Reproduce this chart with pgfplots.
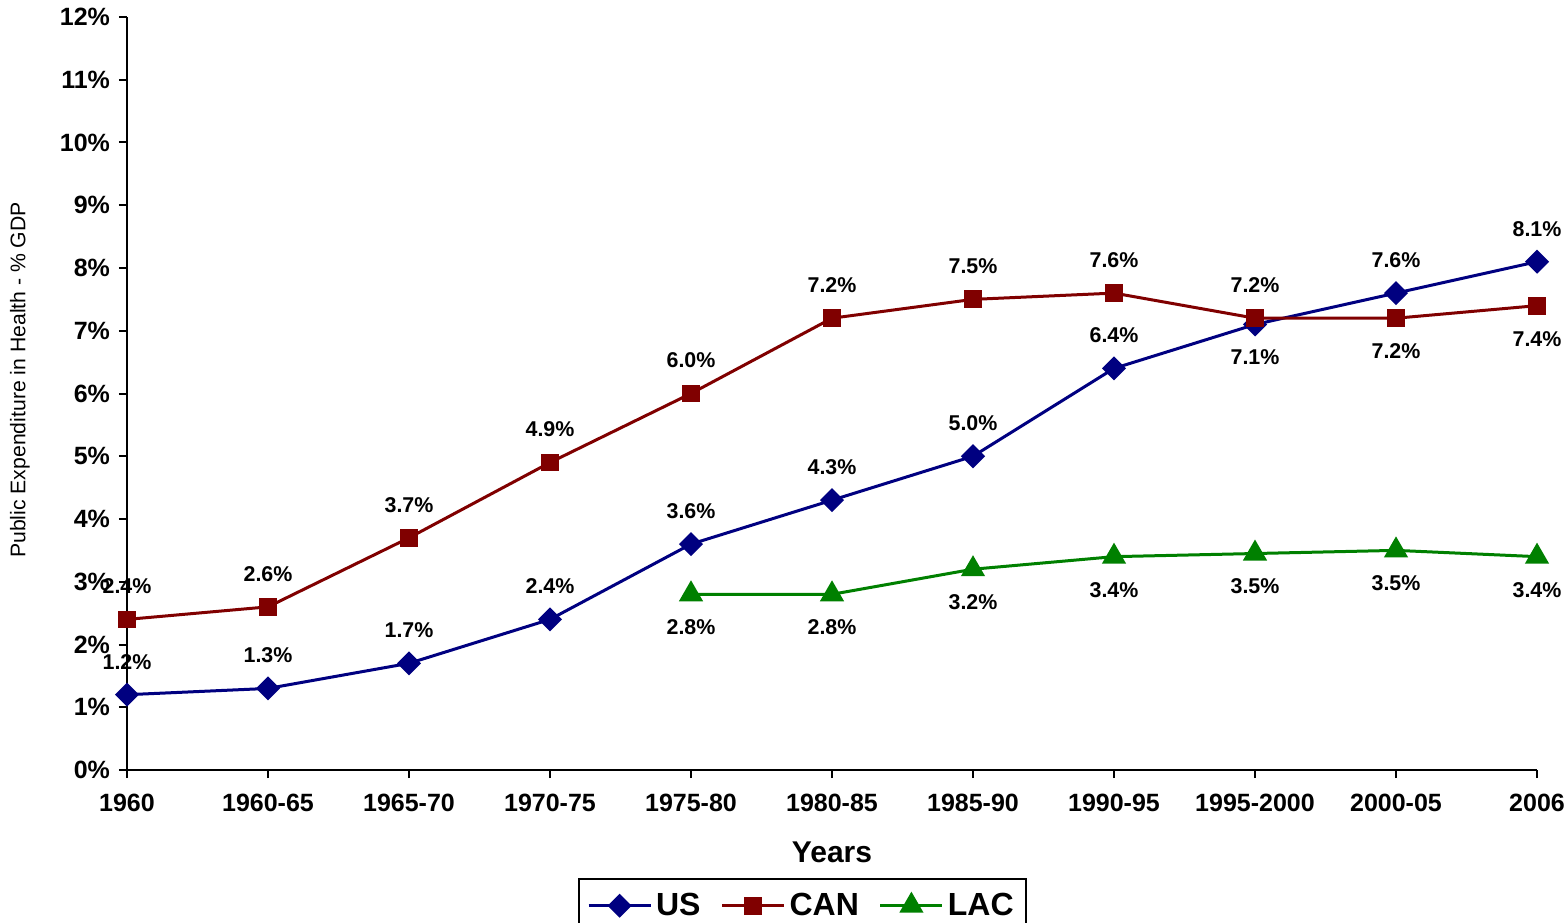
\documentclass[border=0pt]{standalone}
\usepackage{fontspec}
\setmainfont{Liberation Sans}
\usepackage{pgfplots}
\pgfplotsset{compat=1.18}
\usepackage{pgfplotstable}
\definecolor{usblue}{RGB}{0,0,128}
\definecolor{canred}{RGB}{128,0,0}
\definecolor{lacgreen}{RGB}{0,128,0}

\pgfplotstableread{
x y lbl pos
0 1.2 1.2 1
1 1.3 1.3 1
2 1.7 1.7 1
3 2.4 2.4 1
4 3.6 3.6 1
5 4.3 4.3 1
6 5.0 5.0 1
7 6.4 6.4 1
8 7.1 7.1 -1
9 7.6 7.6 1
10 8.1 8.1 1
}\usdata

\pgfplotstableread{
x y lbl pos
0 2.4 2.4 1
1 2.6 2.6 1
2 3.7 3.7 1
3 4.9 4.9 1
4 6.0 6.0 1
5 7.2 7.2 1
6 7.5 7.5 1
7 7.6 7.6 1
8 7.2 7.2 1
9 7.2 7.2 -1
10 7.4 7.4 -1
}\candata

\pgfplotstableread{
x y lbl pos
4 2.8 2.8 -1
5 2.8 2.8 -1
6 3.2 3.2 -1
7 3.4 3.4 -1
8 3.45 3.5 -1
9 3.5 3.5 -1
10 3.4 3.4 -1
}\lacdata

\pgfplotsset{
  lbls/.style={
    nodes near coords={\pgfplotspointmeta\%},
    point meta=explicit symbolic,
    visualization depends on={\thisrow{pos} \as \lblpos},
    every node near coord/.append style={anchor=center, yshift={\lblpos*16.5pt}, text=black, font=\bfseries\fontsize{10.7}{12}\selectfont},
  },
  usst/.style={usblue, line width=1.5pt, mark=square*, mark size=3.5pt, mark options={rotate=45, solid, fill=usblue}},
  canst/.style={canred, line width=1.5pt, mark=square*, mark size=3.7pt, mark options={solid, fill=canred}},
  lacst/.style={lacgreen, line width=1.5pt, mark=triangle*, mark size=5.5pt, mark options={solid, fill=lacgreen}},
}

\begin{document}
\begin{tikzpicture}
\begin{axis}[
  scale only axis,
  width=705pt, height=376.5pt,
  xmin=0, xmax=10, ymin=0, ymax=12,
  axis x line*=bottom, axis y line*=left,
  axis line style={-, line width=1pt, black},
  tick align=outside,
  major tick length=4pt,
  tick style={line width=1pt, black},
  xtick={0,...,10},
  xticklabels={1960,1960-65,1965-70,1970-75,1975-80,1980-85,1985-90,1990-95,1995-2000,2000-05,2006},
  ytick={0,...,12},
  yticklabels={0\%,1\%,2\%,3\%,4\%,5\%,6\%,7\%,8\%,9\%,10\%,11\%,12\%},
  ticklabel style={font=\bfseries\fontsize{12.5}{14}\selectfont},
  xticklabel style={yshift=-4.5pt},
  yticklabel style={xshift=-1pt},
  xlabel={Years},
  every axis x label/.style={at={(axis description cs:0.5,0)}, yshift=-41pt, anchor=center, font=\bfseries\fontsize{15}{17}\selectfont},
  ylabel={Public Expenditure in Health - \% GDP},
  every axis y label/.style={at={(axis description cs:0,0.518)}, xshift=-53.5pt, rotate=90, anchor=center, font=\fontsize{10.6}{12}\selectfont},
  legend columns=3,
  legend style={at={(axis description cs:0.479,-0.1434)}, anchor=north,
    draw=black, line width=1pt, font=\bfseries\fontsize{16}{18}\selectfont,
    inner xsep=4pt, inner ysep=5pt,
    /tikz/every even column/.append style={column sep=8pt}},
  legend image code/.code={\draw[mark repeat=2,mark phase=2] plot coordinates {(0pt,0pt) (15.5pt,0pt) (31pt,0pt)};},
  clip=false,
]
\addlegendimage{usst}
\addlegendentry{US}
\addlegendimage{canst}
\addlegendentry{CAN}
\addlegendimage{lacst}
\addlegendentry{LAC}
\addplot[usst, lbls, forget plot] table[x=x, y=y, meta=lbl] {\usdata};
\addplot[canst, lbls, forget plot] table[x=x, y=y, meta=lbl] {\candata};
\addplot[lacst, lbls, forget plot] table[x=x, y=y, meta=lbl] {\lacdata};
\end{axis}
\pgfresetboundingbox
\path[use as bounding box] (-63.5pt,-76pt) rectangle (720.5pt,385pt);
\end{tikzpicture}
\end{document}
